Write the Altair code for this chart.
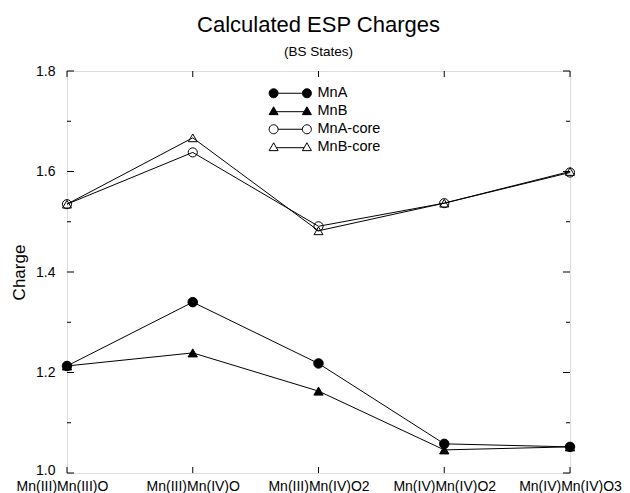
import math
import altair as alt
import pandas as pd

categories = ["Mn(III)Mn(III)O", "Mn(III)Mn(IV)O", "Mn(III)Mn(IV)O2",
              "Mn(IV)Mn(IV)O2", "Mn(IV)Mn(IV)O3"]
series = ["MnA", "MnB", "MnA-core", "MnB-core"]
mna = [1.213, 1.340, 1.218, 1.058, 1.052]
mnb = [1.213, 1.239, 1.163, 1.046, 1.052]
mna_core = [1.535, 1.638, 1.491, 1.537, 1.598]
mnb_core = [1.535, 1.667, 1.482, 1.537, 1.600]
y_major = [1.0, 1.2, 1.4, 1.6, 1.8]
y_minor = [1.1, 1.3, 1.5, 1.7]

values = {"MnA": mna, "MnB": mnb, "MnA-core": mna_core, "MnB-core": mnb_core}
rows = []
for s in series:
    for c, v in zip(categories, values[s]):
        rows.append({"series": s, "cat": c, "value": v})
df = pd.DataFrame(rows)
df_major = pd.DataFrame({"v": y_major})
df_minor = pd.DataFrame({"v": y_minor})
df_cat = pd.DataFrame({"cat": categories})

W, H = 503, 402
FONT = "Liberation Sans"

xscale = alt.Scale(type="point", domain=categories, padding=0)
yscale = alt.Scale(domain=[1.0, 1.8], nice=False, zero=False)

x_enc = alt.X("cat:N", sort=categories, scale=xscale,
              axis=alt.Axis(title=None, domain=False, ticks=False, labelAngle=0,
                            labelFontSize=14, labelPadding=6, labelColor="black",
                            labelFont=FONT,
                            labelOffset={"condition": [
                                {"test": "datum.value == 'Mn(III)Mn(III)O'", "value": -5}],
                                "value": 0}))
y_enc = alt.Y("value:Q", scale=yscale,
              axis=alt.Axis(title="Charge", values=y_major, format=".1f",
                            domain=False, ticks=False, grid=False,
                            labelFontSize=14, labelPadding=12, labelColor="black",
                            labelFont=FONT, titleFont=FONT, titleFontSize=17,
                            titleFontWeight="normal", titleColor="black",
                            titlePadding=7,
                            labelOffset={"condition": [
                                {"test": "datum.value == 1.0", "value": -3}],
                                "value": 0}))

base = alt.Chart(df)

lines = base.mark_line(color="black", strokeWidth=1).encode(
    x=x_enc, y=y_enc, detail="series:N")

points = base.mark_point(filled=False, stroke="black", strokeWidth=1, opacity=1).encode(
    x=alt.X("cat:N", sort=categories, scale=xscale),
    y=alt.Y("value:Q", scale=yscale),
    shape=alt.Shape("series:N", scale=alt.Scale(domain=series,
                    range=["circle", "triangle-up", "circle", "triangle-up"]), legend=None),
    fill=alt.Fill("series:N", scale=alt.Scale(domain=series,
                  range=["black", "black", "transparent", "transparent"]), legend=None),
    size=alt.Size("series:N", scale=alt.Scale(domain=series, range=[90, 80, 95, 85]), legend=None),
)


# legend-only layer: custom symbol paths (marker - line - marker)
def circle_path(cx, r=1.0, n=24):
    pts = [(cx + r * math.cos(2 * math.pi * k / n), r * math.sin(2 * math.pi * k / n))
           for k in range(n)]
    return "M" + "L".join(f"{x:.3f},{y:.3f}" for x, y in pts) + "Z"


def tri_path(cx):
    return f"M{cx - 1:.3f},0.75L{cx:.3f},-1L{cx + 1:.3f},0.75Z"


p_circle = circle_path(-3.7) + "M-2.7,0L2.7,0" + circle_path(3.7)
p_tri = tri_path(-3.7) + "M-3.1,0.1L3.1,0.1" + tri_path(3.7)

leg = alt.Legend(title=None, orient="none", legendX=216, legendY=15, padding=0,
                 symbolSize=81, symbolStrokeWidth=1, symbolStrokeColor="black",
                 labelFontSize=14.5, labelFont=FONT, labelColor="black",
                 labelOffset=20, rowPadding=3)
legend_layer = base.transform_filter("false").mark_point(
    filled=False, strokeWidth=1, opacity=1).encode(
    x=alt.X("cat:N", sort=categories, scale=xscale),
    y=alt.Y("value:Q", scale=yscale),
    shape=alt.Shape("series:N", scale=alt.Scale(domain=series,
                    range=[p_circle, p_tri, p_circle, p_tri]), legend=leg),
    fill=alt.Fill("series:N", scale=alt.Scale(domain=series,
                  range=["black", "black", "transparent", "transparent"]), legend=leg),
    stroke=alt.Stroke("series:N", scale=alt.Scale(domain=series,
                      range=["black", "black", "black", "black"]), legend=leg),
)


# inward ticks
def yt(d, x1, x2):
    return alt.Chart(d).mark_rule(color="black", strokeWidth=1).encode(
        y=alt.Y("v:Q", scale=yscale), x=alt.value(x1), x2=alt.value(x2))


def xt(y1, y2):
    return alt.Chart(df_cat).mark_rule(color="black", strokeWidth=1).encode(
        x=alt.X("cat:N", sort=categories, scale=xscale), y=alt.value(y1), y2=alt.value(y2))


ticks = [yt(df_major, 0, 7), yt(df_minor, 0, 4), yt(df_major, W, W - 7), yt(df_minor, W, W - 4),
         xt(0, 6), xt(H, H - 6)]

chart = alt.layer(lines, points, legend_layer, *ticks).resolve_scale(
    shape="independent", fill="independent", size="independent", stroke="independent"
).properties(
    width=W, height=H,
    autosize="none",
    padding={"left": 59, "top": 63, "right": 52, "bottom": 20},
    title=alt.TitleParams(text="Calculated ESP Charges", subtitle="(BS States)",
                          anchor="middle", fontSize=22, fontWeight="normal",
                          font=FONT, color="black", subtitleFont=FONT,
                          subtitleFontSize=13.5, subtitleColor="black",
                          subtitlePadding=8, offset=5),
).configure_view(stroke="black", strokeWidth=1).configure(font=FONT, background="white")

chart.save("out.html", embed_options={"renderer": "svg", "actions": False})
